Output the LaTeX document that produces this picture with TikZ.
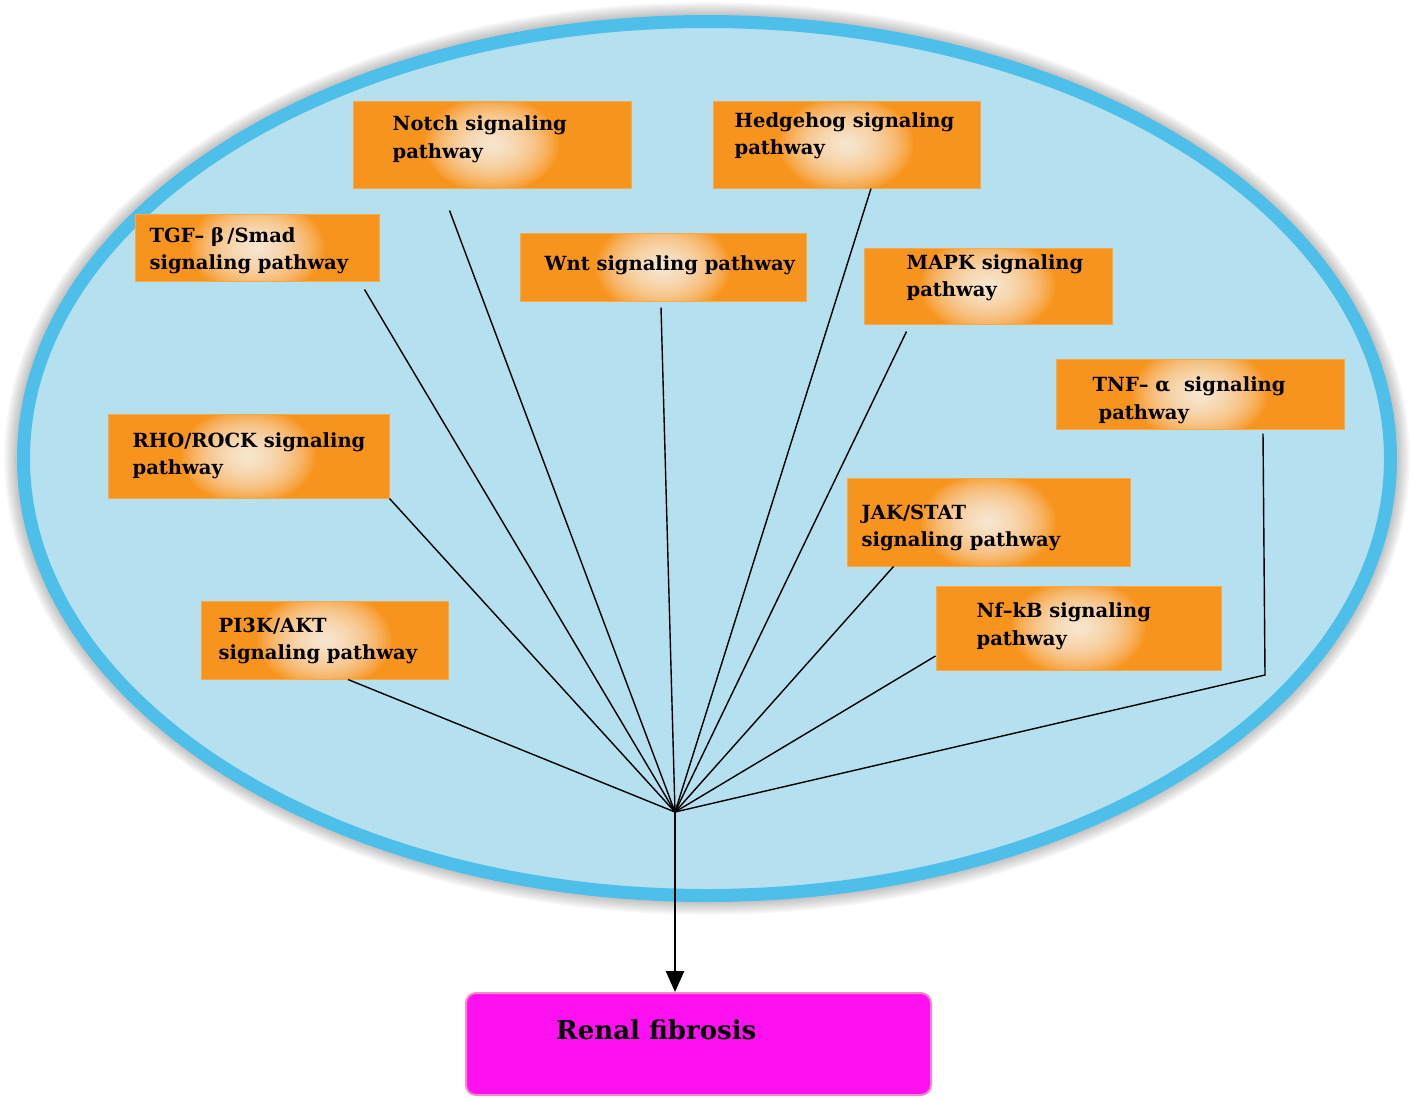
\documentclass[tikz,border=0pt]{standalone}
\usepackage{fontspec}
\setmainfont{DejaVu Serif}
\usetikzlibrary{arrows.meta,calc}
\definecolor{bandblue}{HTML}{4DBFE8}
\definecolor{lakeblue}{HTML}{B5E0EF}
\definecolor{pathorange}{HTML}{F7941D}
\definecolor{fibmag}{HTML}{FF10F0}
\definecolor{fibpink}{HTML}{F48BC6}
\tikzset{
  pbox/.style={draw=pathorange!80!white, line width=1pt, fill=pathorange, inner sep=0pt,
               path picture={\foreach \r in {2,4,...,48}
                 \fill[white, opacity=0.065] (path picture bounding box.center)
                   ellipse [x radius=1.4*\r pt, y radius=\r pt];}},
  ptext/.style={anchor=west, align=left, inner sep=0pt, text=black,
                font=\bfseries\fontsize{19.5}{27.5}\selectfont},
  fibbox/.style={draw=fibpink, line width=2pt, fill=fibmag, rounded corners=10pt},
  fibtext/.style={anchor=west, inner sep=0pt, font=\bfseries\fontsize{26}{30}\selectfont},
  link/.style={line width=1.4pt, draw=black},
  flow/.style={line width=2.6pt, draw=black, -{Triangle[length=21pt, width=18pt]}},
}

\begin{document}
\begin{tikzpicture}[x=1pt, y=-1pt]
\useasboundingbox (0,0) rectangle (1413,1098);

% --- the cell: soft shadow, then the blue ellipse ---
\coordinate (lake) at (707,458.5);
\foreach \g in {1,...,7}
  \fill[black, opacity=0.035] (lake) ellipse [x radius={690pt+1.8pt*\g}, y radius={443.5pt+1.8pt*\g}];
\draw[line width=13pt, draw=bandblue, fill=lakeblue] (lake) ellipse [x radius=683.5pt, y radius=437pt];

% --- signaling pathways ---
\node[pbox, minimum width=278pt, minimum height=87pt] (notch) at (492,144.5) {};
\node[ptext] (notch-t) at ($(notch.west)+(40,-5)$) {Notch signaling\\pathway};

\node[pbox, minimum width=267pt, minimum height=87pt] (hedgehog) at (846.5,144.5) {};
\node[ptext] (hedgehog-t) at ($(hedgehog.west)+(22,-8.5)$) {Hedgehog signaling\\pathway};

\node[pbox, minimum width=244pt, minimum height=67pt] (tgf) at (257,247.5) {};
\node[ptext] (tgf-t) at ($(tgf.west)+(15,3)$) {TGF– β\,/Smad\\signaling pathway};

\node[pbox, minimum width=286pt, minimum height=68pt] (wnt) at (663,267) {};
\node[ptext] (wnt-t) at ($(wnt.west)+(25,-2)$) {Wnt signaling pathway};

\node[pbox, minimum width=248pt, minimum height=76pt] (mapk) at (988,286) {};
\node[ptext] (mapk-t) at ($(mapk.west)+(43,-8)$) {MAPK signaling\\pathway};

\node[pbox, minimum width=288pt, minimum height=70pt] (tnf) at (1200,394) {};
\node[ptext] (tnf-t) at ($(tnf.west)+(37,6.5)$) {TNF– α~ signaling\\\hspace*{6pt}pathway};

\node[pbox, minimum width=281pt, minimum height=84pt] (rho) at (248.5,456) {};
\node[ptext] (rho-t) at ($(rho.west)+(25,0)$) {RHO/ROCK signaling\\pathway};

\node[pbox, minimum width=283pt, minimum height=88pt] (jak) at (988.5,522) {};
\node[ptext] (jak-t) at ($(jak.west)+(15,6)$) {JAK/STAT\\signaling pathway};

\node[pbox, minimum width=247pt, minimum height=78pt] (pi3k) at (324.5,640) {};
\node[ptext] (pi3k-t) at ($(pi3k.west)+(18,1)$) {PI3K/AKT\\signaling pathway};

\node[pbox, minimum width=285pt, minimum height=84pt] (nfkb) at (1078.5,628) {};
\node[ptext] (nfkb-t) at ($(nfkb.west)+(41,-2)$) {Nf–kB signaling\\pathway};

% --- outcome ---
\node[fibbox, minimum width=465pt, minimum height=102pt] (renal) at (698.5,1044) {};
\node[fibtext] (renal-t) at ($(renal.west)+(91,-14)$) {Renal fibrosis};

% --- links into the hub ---
\coordinate (hub) at (675,812);
\coordinate (tnfbend) at (1265,675);
\draw[link] ($(tgf.south east)+(-15,8)$) -- (hub);
\draw[link] ($(notch.south west)+(97,22)$) -- (hub);
\draw[link] ($(wnt.south)+(-2,6)$) -- (hub);
\draw[link] ($(hedgehog.south)+(24.5,0)$) -- (hub);
\draw[link] ($(mapk.south west)+(43,7)$) -- (hub);
\draw[link] (rho.south east) -- (hub);
\draw[link] ($(jak.south west)+(47,0)$) -- (hub);
\draw[link] ($(pi3k.south)+(23.5,0)$) -- (hub);
\draw[link] ($(nfkb.west)+(0,28)$) -- (hub);
\draw[link] ($(tnf.south)+(63,4)$) -- (tnfbend) -- (hub);

\draw[flow] (hub) -- (hub |- renal.north);

\end{tikzpicture}
\end{document}
